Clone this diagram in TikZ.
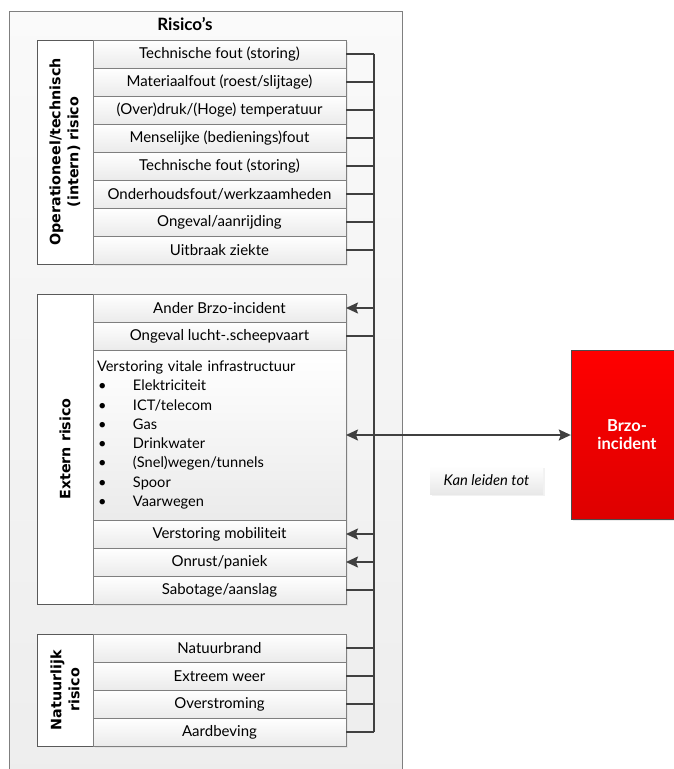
\documentclass[tikz,border=0pt]{standalone}
\usepackage{fontspec}
\setmainfont{Lato}
\newfontfamily\sidefont{DejaVu Sans}
\usetikzlibrary{positioning,arrows.meta,shadows}
\definecolor{wiregray}{HTML}{404040}
\definecolor{linegray}{HTML}{7F7F7F}

\begin{document}
\begin{tikzpicture}[x=1pt,y=-1pt,node distance=0pt,
frame/.style={draw=linegray,top color=black!2,bottom color=black!7},
side/.style={draw=black!65,fill=white,rotate=90,align=center,inner sep=0pt,outer sep=0pt,minimum height=56pt,font=\sidefont\fontsize{14.3}{18}\selectfont\bfseries},
row/.style={draw=linegray,top color=white,bottom color=black!8,inner sep=0pt,outer sep=0pt,minimum width=253pt,minimum height=28pt,font=\fontsize{15}{17}\selectfont,drop shadow={shadow xshift=1.5pt,shadow yshift=-1.5pt,fill=black!15}},
bigrow/.style={row,minimum height=170pt,inner xsep=4pt,text width=245pt,align=left,font=\fontsize{14.6}{19.3}\selectfont},
brzo/.style={draw=black!70,top color=red,bottom color=red!87!black,minimum width=112pt,minimum height=169pt,align=center,text=white,font=\fontsize{16.5}{18}\selectfont\bfseries,drop shadow={shadow xshift=1.5pt,shadow yshift=-1.5pt,fill=black!15}},
tag/.style={top color=white,bottom color=black!9,minimum width=113pt,minimum height=28pt,font=\fontsize{14.8}{17}\selectfont\itshape,drop shadow={shadow xshift=1.5pt,shadow yshift=-1.5pt,fill=black!10}},
wire/.style={draw=wiregray,line width=1.7pt},
arrow/.style={wire,-{Stealth[length=12pt,width=11pt,inset=2pt]}}]
\useasboundingbox (0,0) rectangle (673,769);
\draw[frame] (9,11) rectangle (402,785);
\node[font=\fontsize{17}{18}\selectfont\bfseries] (title) at (185,24) {Risico’s};
% operationeel / technisch
\node[side,minimum width=224pt] (s1) at (65,152) {Operationeel/technisch\\(intern) risico};
\node[row] (t1) at (219.5,54) {Technische fout (storing)};
\node[row,below=of t1] (t2) {Materiaalfout (roest/slijtage)};
\node[row,below=of t2] (t3) {(Over)druk/(Hoge) temperatuur};
\node[row,below=of t3] (t4) {Menselijke (bedienings)fout};
\node[row,below=of t4] (t5) {Technische fout (storing)};
\node[row,below=of t5] (t6) {Onderhoudsfout/werkzaamheden};
\node[row,below=of t6] (t7) {Ongeval/aanrijding};
\node[row,below=of t7] (t8) {Uitbraak ziekte};
% extern
\node[side,minimum width=310pt] (s2) at (65,449) {Extern risico};
\node[row] (e1) at (219.5,308) {Ander Brzo-incident};
\node[row,below=of e1] (e2) {Ongeval lucht-.scheepvaart};
\node[bigrow,below=of e2] (e3) {Verstoring vitale infrastructuur\\
\hspace*{1pt}\makebox[35pt][l]{\textbullet}Elektriciteit\\
\hspace*{1pt}\makebox[35pt][l]{\textbullet}ICT/telecom\\
\hspace*{1pt}\makebox[35pt][l]{\textbullet}Gas\\
\hspace*{1pt}\makebox[35pt][l]{\textbullet}Drinkwater\\
\hspace*{1pt}\makebox[35pt][l]{\textbullet}(Snel)wegen/tunnels\\
\hspace*{1pt}\makebox[35pt][l]{\textbullet}Spoor\\
\hspace*{1pt}\makebox[35pt][l]{\textbullet}Vaarwegen};
\node[row,below=of e3] (e4) {Verstoring mobiliteit};
\node[row,below=of e4] (e5) {Onrust/paniek};
\node[row,below=of e5] (e6) {Sabotage/aanslag};
% natuurlijk
\node[side,minimum width=112pt] (s3) at (65,690) {Natuurlijk\\risico};
\node[row] (n1) at (219.5,648) {Natuurbrand};
\node[row,below=of n1] (n2) {Extreem weer};
\node[row,below=of n2] (n3) {Overstroming};
\node[row,below=of n3] (n4) {Aardbeving};
% gevolg
\node[brzo] (brzo) at (627,435) {Brzo-\\incident};
\node[tag] (lead) at (486.5,480) {Kan leiden tot};
\coordinate (bus) at (374,0);
\draw[wire] (t1.east -| bus) -- (n4.east -| bus);
\foreach \r in {t1,t2,t3,t4,t5,t6,t7,t8,e2,e6,n1,n2,n3,n4}
  \draw[wire] (\r.east) -- (\r.east -| bus);
\foreach \r in {e1,e4,e5}
  \draw[arrow] (\r.east -| bus) -- (\r.east);
\draw[arrow,{Stealth[length=12pt,width=11pt,inset=2pt]}-{Stealth[length=12pt,width=11pt,inset=2pt]}] (e3.east) -- (brzo.west);
\end{tikzpicture}
\end{document}
